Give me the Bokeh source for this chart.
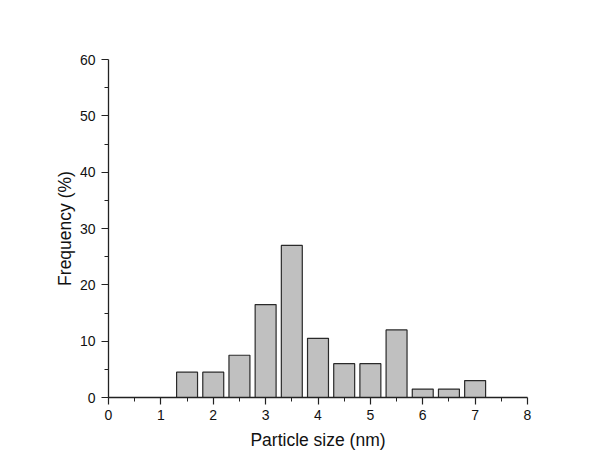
from bokeh.plotting import figure
from bokeh.embed import file_html
from bokeh.resources import INLINE
from bokeh.models import FixedTicker

sizes = [1.5, 2.0, 2.5, 3.0, 3.5, 4.0, 4.5, 5.0, 5.5, 6.0, 6.5, 7.0]
freq = [4.5, 4.5, 7.5, 16.5, 27.0, 10.5, 6.0, 6.0, 12.0, 1.5, 1.5, 3.0]
x_ticks = [0, 1, 2, 3, 4, 5, 6, 7, 8]
y_ticks = [0, 10, 20, 30, 40, 50, 60]

p = figure(width=590, height=458, x_range=(0, 8), y_range=(0, 60),
           output_backend="svg", toolbar_location=None,
           min_border_left=108, min_border_right=63,
           min_border_top=59, min_border_bottom=61)
p.outline_line_color = None
p.xgrid.visible = False
p.ygrid.visible = False

p.vbar(x=sizes, top=freq, width=0.4, bottom=0,
       fill_color="#c0c0c0", line_color="#2a2a2a", line_width=1.2)

for ax in (p.xaxis[0], p.yaxis[0]):
    ax.axis_line_color = "#222222"
    ax.axis_line_width = 1.3
    ax.major_tick_line_color = "#222222"
    ax.minor_tick_line_color = "#222222"
    ax.major_tick_line_width = 1.2
    ax.major_tick_in = 0
    ax.major_tick_out = 7
    ax.minor_tick_in = 0
    ax.minor_tick_out = 4
    ax.major_label_text_font = "Liberation Sans"
    ax.major_label_text_font_size = "14px"
    ax.major_label_text_color = "#111111"
    ax.axis_label_text_font = "Liberation Sans"
    ax.axis_label_text_font_size = "17.5px"
    ax.axis_label_text_font_style = "normal"
    ax.axis_label_text_color = "#111111"

p.xaxis.ticker = FixedTicker(ticks=x_ticks, minor_ticks=[v + 0.5 for v in x_ticks[:-1]])
p.yaxis.ticker = FixedTicker(ticks=y_ticks, minor_ticks=[v + 5 for v in y_ticks[:-1]])
p.xaxis.axis_label = "Particle size (nm)"
p.yaxis.axis_label = "Frequency (%)"
p.xaxis.major_label_standoff = 5
p.yaxis.major_label_standoff = 6
p.xaxis.axis_label_standoff = 7
p.yaxis.axis_label_standoff = 2

open("out.html", "w").write(file_html(p, INLINE))
